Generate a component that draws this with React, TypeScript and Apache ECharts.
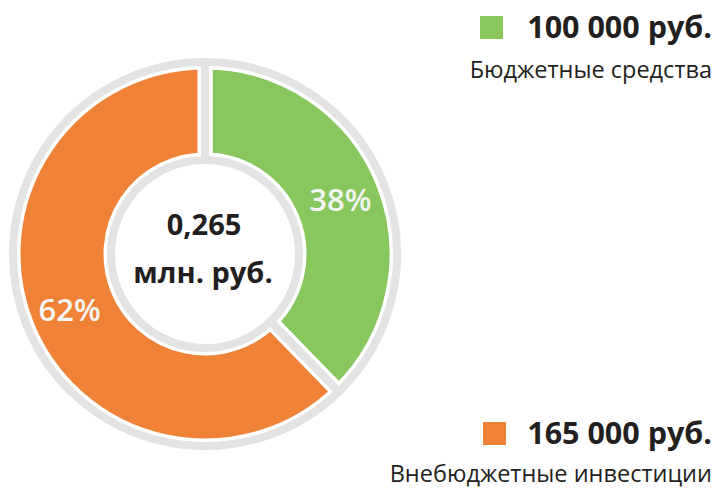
import React, { useEffect, useRef } from "react";
import * as echarts from "echarts";

const categories = ["Бюджетные средства", "Внебюджетные инвестиции"];
const values = [100000, 165000];
const colors = ["#88c65e", "#ef8236"];
const totalUnit = "млн. руб.";
const currency = "руб.";

const FONT = "'Open Sans', 'Noto Sans', sans-serif";

function fmtRub(v: number): string {
  return String(v).replace(/\B(?=(\d{3})+(?!\d))/g, " ") + " " + currency;
}

export default function App() {
  const ref = useRef<HTMLDivElement>(null);

  useEffect(() => {
    document.body.style.margin = "0";
    if (!ref.current) return;
    const chart = echarts.init(ref.current, undefined, { renderer: "svg" });
    const total = values.reduce((a, b) => a + b, 0);
    const totalText = (total / 1e6).toFixed(3).replace(".", ",");
    const data = categories.map((name, i) => ({
      name,
      value: values[i],
      itemStyle: { color: colors[i] },
    }));

    const legendPos = [
      { sq: [480, 16], valueY: 26, nameY: 69 },
      { sq: [483, 422], valueY: 432, nameY: 473 },
    ];

    const graphics: any[] = [
      {
        type: "text",
        x: 204,
        y: 223,
        style: {
          text: totalText,
          font: `bold 29px ${FONT}`,
          fill: "#231f20",
          textAlign: "center",
          textVerticalAlign: "middle",
        },
      },
      {
        type: "text",
        x: 203,
        y: 271,
        style: {
          text: totalUnit,
          font: `bold 29px ${FONT}`,
          fill: "#231f20",
          textAlign: "center",
          textVerticalAlign: "middle",
        },
      },
    ];
    categories.forEach((name, i) => {
      const p = legendPos[i];
      graphics.push(
        {
          type: "rect",
          shape: { x: p.sq[0], y: p.sq[1], width: 23, height: 23 },
          style: { fill: colors[i] },
        },
        {
          type: "text",
          x: 712,
          y: p.valueY,
          style: {
            text: fmtRub(values[i]),
            font: `bold 30.5px ${FONT}`,
            fill: "#231f20",
            textAlign: "right",
            textVerticalAlign: "middle",
          },
        },
        {
          type: "text",
          x: 712,
          y: p.nameY,
          style: {
            text: name,
            font: `23.5px ${FONT}`,
            fill: "#231f20",
            textAlign: "right",
            textVerticalAlign: "middle",
          },
        }
      );
    });

    chart.setOption({
      animation: false,
      backgroundColor: "#ffffff",
      series: [
        {
          type: "pie",
          center: [205, 254],
          radius: [94, 192],
          startAngle: 90,
          clockwise: true,
          avoidLabelOverlap: false,
          emphasis: { disabled: true },
          itemStyle: { borderColor: "#ffffff", borderWidth: 15 },
          label: {
            show: true,
            position: "inside",
            formatter: (p: any) => Math.round(p.percent) + "%",
            color: "#f4f4f4",
            fontFamily: FONT,
            fontSize: 31,
            fontWeight: 600,
          },
          labelLine: { show: false },
          data,
          z: 2,
        },
        {
          type: "pie",
          center: [205, 254],
          radius: [94, 192],
          startAngle: 90,
          clockwise: true,
          silent: true,
          emphasis: { disabled: true },
          itemStyle: {
            color: "rgba(0,0,0,0)",
            borderColor: "#e3e3e3",
            borderWidth: 8,
          },
          label: { show: false },
          labelLine: { show: false },
          data: categories.map((name, i) => ({ name, value: values[i] })),
          z: 3,
        },
      ],
      graphic: graphics,
    });

    return () => chart.dispose();
  }, []);

  return (
    <div
      ref={ref}
      style={{ position: "fixed", left: 0, top: 0, width: 716, height: 488 }}
    />
  );
}
